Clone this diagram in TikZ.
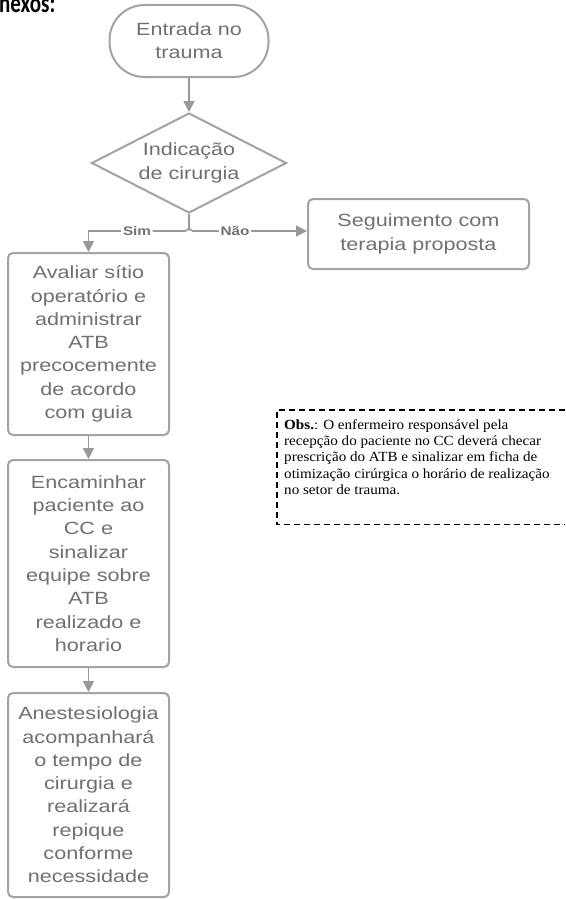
\documentclass[tikz,border=0pt]{standalone}
\usepackage{fontspec}
\usetikzlibrary{shapes.geometric,arrows.meta}
\newfontfamily\flowfont[FakeStretch=1.22]{Liberation Sans}
\newfontfamily\obsfont[FakeStretch=1.08]{Liberation Serif}
\newfontfamily\headfont{Carlito}
\definecolor{txtgray}{HTML}{707070}
\definecolor{lingray}{HTML}{999999}
\definecolor{boxgray}{HTML}{A3A3A3}
\tikzset{
  flowtext/.style={font=\flowfont\fontsize{17.7}{23.3}\selectfont, text=txtgray, align=center},
  procbox/.style={flowtext, draw=boxgray, line width=2pt, rounded corners=5pt, inner sep=0pt},
  terminal/.style={procbox, rounded corners=35pt, minimum width=159pt, minimum height=72pt},
  decision/.style={flowtext, shape=diamond, draw=boxgray, line width=2pt, aspect=1.95,
    inner sep=0pt, minimum width=195pt, minimum height=100pt},
  lbl/.style={font=\flowfont\bfseries\fontsize{12.5}{14}\selectfont, text=txtgray, fill=white, inner sep=1.5pt},
  conn/.style={draw=lingray, line width=1.6pt},
  arr/.style={conn, -{Triangle[width=11pt,length=11pt]}},
  dashframe/.style={draw=black, line width=1.1pt, dash pattern=on 6pt off 4pt},
  obstext/.style={font=\obsfont\fontsize{14}{16.2}\selectfont, text=black, align=left, inner sep=0pt}
}
\begin{document}
\begin{tikzpicture}[x=1pt,y=-1pt]
\path[fill=white, use as bounding box] (0,0) rectangle (565,899);

\node[anchor=base west, inner sep=0pt, font=\headfont\bfseries\fontsize{21}{21}\selectfont] (head) at (-1,13) {\scalebox{1}[1.3]{nexos:}};

\node[terminal] (start) at (189,41) {Entrada no\\trauma};
\node[decision] (dec) at (189,163) {Indicação\\de cirurgia};
\node[procbox, minimum width=221pt, minimum height=70pt] (seg) at (418.5,234) {Seguimento com\\terapia proposta};
\node[procbox, minimum width=161pt, minimum height=182pt] (b1) at (88.5,344) {Avaliar sítio\\operatório e\\administrar\\ATB\\precocemente\\de acordo\\com guia};
\node[procbox, minimum width=161pt, minimum height=207pt] (b2) at (88.5,563.5) {Encaminhar\\paciente ao\\CC e\\sinalizar\\equipe sobre\\ATB\\realizado e\\horario};
\node[procbox, minimum width=161pt, minimum height=204pt] (b3) at (88.5,795) {Anestesiologia\\acompanhará\\o tempo de\\cirurgia e\\realizará\\repique\\conforme\\necessidade};

\node[lbl] (sim) at (137,231) {Sim};
\node[lbl] (nao) at (235,231) {Não};

\draw[arr] (start) -- (dec);
\draw[conn, rounded corners=4pt] (dec.south) |- (sim.east);
\draw[arr] (sim.west) -| (b1.north);
\draw[conn, rounded corners=4pt] (dec.south) |- (nao.west);
\draw[arr] (nao.east) -- (nao.east -| seg.west);
\draw[arr] (b1) -- (b2);
\draw[arr] (b2) -- (b3);

\node[minimum width=288pt, minimum height=114pt, anchor=north west, inner sep=0pt] (frame) at (277,410) {};
\draw[dashframe] (frame.north east) -- (frame.north west) -- (frame.south west) -- (frame.south east);
\node[obstext, anchor=north west] (obs) at (284,419.5) {\textbf{Obs.}: O enfermeiro responsável pela\\recepção do paciente no CC deverá checar\\prescrição do ATB e sinalizar em ficha de\\otimização cirúrgica o horário de realização\\no setor de trauma.};
\end{tikzpicture}
\end{document}
